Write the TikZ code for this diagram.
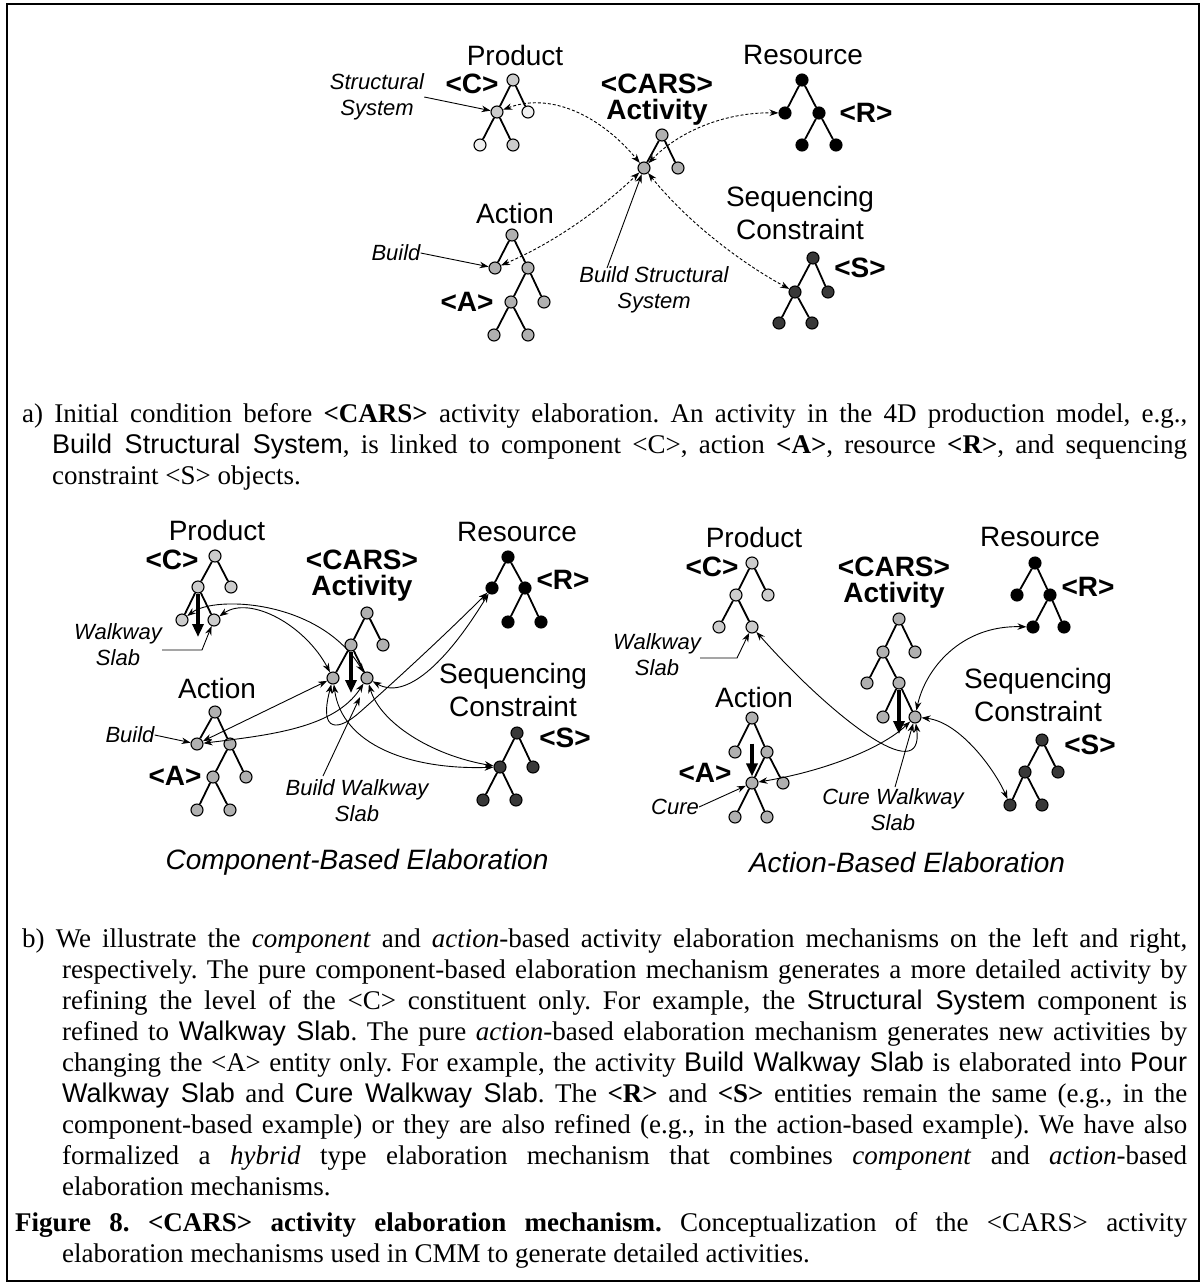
\documentclass[tikz,border=0pt]{standalone}
\usepackage{fontspec}
\setmainfont{Liberation Serif}
\setsansfont{Liberation Sans}
\usetikzlibrary{positioning,arrows.meta}
\frenchspacing

\tikzset{
  tnode/.style={circle, draw, line width=1.1pt, inner sep=0pt, minimum size=12pt},
  pnode/.style={tnode, fill=gray!40},
  anode/.style={tnode, fill=gray!62},
  rnode/.style={tnode, fill=black},
  snode/.style={tnode, fill=black!78},
  tedge/.style={line width=1.8pt},
  link/.style={line width=0.9pt, {Stealth[length=9pt,width=6.5pt]}-{Stealth[length=9pt,width=6.5pt]}},
  dlink/.style={link, dash pattern=on 3pt off 2pt},
  pointer/.style={line width=0.9pt, -{Stealth[length=9pt,width=6.5pt]}},
  bigarrow/.style={line width=3.2pt, -{Triangle[length=13pt,width=11pt]}},
  lbl/.style={font=\sffamily\fontsize{28}{33}\selectfont, inner sep=0pt, align=center},
  blbl/.style={font=\sffamily\bfseries\fontsize{28}{26}\selectfont, inner sep=0pt, align=center},
  ilbl/.style={font=\sffamily\itshape\fontsize{22}{26}\selectfont, inner sep=0pt, align=center},
  tlbl/.style={font=\sffamily\itshape\fontsize{28}{30}\selectfont, inner sep=0pt},
  captext/.style={font=\fontsize{27}{31}\selectfont, inner sep=0pt, anchor=north west, align=justify},
}

\begin{document}
\begin{tikzpicture}[x=1pt,y=-1pt]
  \useasboundingbox (0,0) rectangle (1201,1283);
  % Frame round the whole figure
  \draw[line width=1.6pt] (7,4) rectangle (1199,1281);

  % ===== a) initial condition =====
  % Product tree <C>
  \node[pnode] (tp0) at (513,80) {};
  \node[pnode] (tp1) at (497,112) {};
  \node[tnode, fill=gray!12] (tp2) at (528,112) {};
  \node[tnode, fill=gray!12] (tp3) at (480,145) {};
  \node[pnode] (tp4) at (513,145) {};
  \foreach \a/\b in {tp0/tp1, tp0/tp2, tp1/tp3, tp1/tp4} \draw[tedge] (\a) -- (\b);
  \node[lbl] (tpl) at (515,55) {Product};
  \node[blbl] (tpc) at (472,84) {<C>};
  \node[ilbl] (tss) at (377,97) {Structural\\System};
  \draw[pointer] (tss.east) -- (tp1);

  % Activity tree
  \node[anode] (ta0) at (662,135) {};
  \node[anode] (ta1) at (644,168) {};
  \node[anode] (ta2) at (678,168) {};
  \foreach \a/\b in {ta0/ta1, ta0/ta2} \draw[tedge] (\a) -- (\b);
  \node[blbl] (tal) at (657,100) {<CARS>\\Activity};

  % Resource tree <R>
  \node[rnode] (tr0) at (802,80) {};
  \node[rnode] (tr1) at (785,113) {};
  \node[rnode] (tr2) at (819,113) {};
  \node[rnode] (tr3) at (802,145) {};
  \node[rnode] (tr4) at (836,145) {};
  \foreach \a/\b in {tr0/tr1, tr0/tr2, tr2/tr3, tr2/tr4} \draw[tedge] (\a) -- (\b);
  \node[lbl] (trl) at (803,55) {Resource};
  \node[blbl] (trc) at (866,113) {<R>};

  % Action tree <A>
  \node[anode] (tc0) at (512,235) {};
  \node[anode] (tc1) at (495,268) {};
  \node[anode] (tc2) at (528,268) {};
  \node[anode] (tc3) at (511,302) {};
  \node[anode] (tc4) at (544,302) {};
  \node[anode] (tc5) at (494,335) {};
  \node[anode] (tc6) at (528,335) {};
  \foreach \a/\b in {tc0/tc1, tc0/tc2, tc2/tc3, tc2/tc4, tc3/tc5, tc3/tc6} \draw[tedge] (\a) -- (\b);
  \node[lbl] (tcl) at (515,213) {Action};
  \node[blbl] (tcc) at (467,302) {<A>};
  \node[ilbl] (tbd) at (396,253) {Build};
  \draw[pointer] (tbd.east) -- (tc1);

  % Sequencing constraint tree <S>
  \node[snode] (ts0) at (813,258) {};
  \node[snode] (ts1) at (795,292) {};
  \node[snode] (ts2) at (828,292) {};
  \node[snode] (ts3) at (779,323) {};
  \node[snode] (ts4) at (812,323) {};
  \foreach \a/\b in {ts0/ts1, ts0/ts2, ts1/ts3, ts1/ts4} \draw[tedge] (\a) -- (\b);
  \node[lbl] (tsl) at (800,213) {Sequencing\\Constraint};
  \node[blbl] (tsc) at (860,268) {<S>};

  % Links of the activity
  \draw[dlink] (tp1) .. controls (550,92) and (600,115) .. (ta1);
  \draw[dlink] (ta1) .. controls (675,135) and (720,112) .. (tr1);
  \draw[dlink] (tc1) .. controls (560,240) and (605,205) .. (ta1);
  \draw[dlink] (ta1) .. controls (690,225) and (745,265) .. (ts1);
  \node[ilbl] (tbs) at (654,290) {Build Structural\\System};
  \coordinate (tbsp) at (607,268);
  \draw[pointer] (tbsp) -- (ta1);

  % Caption a)
  \node[captext, text width=1165pt] (capa) at (22,403) {\hangindent=30pt\hangafter=1
    a) Initial condition before \textbf{<CARS>} activity elaboration. An activity in the 4D production model, e.g.,\linebreak
    {\sffamily Build Structural System}, is linked to component <C>, action \textbf{<A>}, resource \textbf{<R>}, and sequencing\linebreak
    constraint <S> objects.\par};

  % ===== b) left: component-based elaboration =====
  % Product tree <C>
  \node[pnode] (lp0) at (215,556) {};
  \node[pnode] (lp1) at (198,587) {};
  \node[pnode] (lp2) at (231,587) {};
  \node[pnode] (lp3) at (182,620) {};
  \node[pnode] (lp4) at (214,620) {};
  \foreach \a/\b in {lp0/lp1, lp0/lp2, lp1/lp3, lp1/lp4} \draw[tedge] (\a) -- (\b);
  \coordinate (lpt) at (198,637);
  \draw[bigarrow] (lp1) -- (lpt);
  \node[lbl] (lpl) at (217,530) {Product};
  \node[blbl] (lpc) at (172,560) {<C>};
  \node[ilbl] (lws) at (118,645) {Walkway\\Slab};
  \coordinate (lwsp) at (162,650);
  \draw[pointer] (lwsp) -- (202,650) -- (lp4);

  % Activity tree
  \node[anode] (la0) at (367,613) {};
  \node[anode] (la1) at (351,645) {};
  \node[anode] (la2) at (383,645) {};
  \node[anode] (la3) at (333,678) {};
  \node[anode] (la4) at (367,678) {};
  \foreach \a/\b in {la0/la1, la0/la2, la1/la3, la1/la4} \draw[tedge] (\a) -- (\b);
  \coordinate (lat) at (351,693);
  \draw[bigarrow] (la1) -- (lat);
  \node[blbl] (lal) at (362,576) {<CARS>\\Activity};

  % Resource tree <R>
  \node[rnode] (lr0) at (508,557) {};
  \node[rnode] (lr1) at (492,588) {};
  \node[rnode] (lr2) at (525,588) {};
  \node[rnode] (lr3) at (508,622) {};
  \node[rnode] (lr4) at (541,622) {};
  \foreach \a/\b in {lr0/lr1, lr0/lr2, lr2/lr3, lr2/lr4} \draw[tedge] (\a) -- (\b);
  \node[lbl] (lrl) at (517,532) {Resource};
  \node[blbl] (lrc) at (563,580) {<R>};

  % Action tree <A>
  \node[anode] (lc0) at (215,712) {};
  \node[anode] (lc1) at (197,744) {};
  \node[anode] (lc2) at (230,744) {};
  \node[anode] (lc3) at (213,777) {};
  \node[anode] (lc4) at (246,777) {};
  \node[anode] (lc5) at (197,810) {};
  \node[anode] (lc6) at (230,810) {};
  \foreach \a/\b in {lc0/lc1, lc0/lc2, lc2/lc3, lc2/lc4, lc3/lc5, lc3/lc6} \draw[tedge] (\a) -- (\b);
  \node[lbl] (lcl) at (217,688) {Action};
  \node[blbl] (lcc) at (175,776) {<A>};
  \node[ilbl] (lbd) at (130,735) {Build};
  \draw[pointer] (lbd.east) -- (lc1);

  % Sequencing constraint tree <S>
  \node[snode] (ls0) at (517,733) {};
  \node[snode] (ls1) at (500,767) {};
  \node[snode] (ls2) at (533,767) {};
  \node[snode] (ls3) at (483,800) {};
  \node[snode] (ls4) at (516,800) {};
  \foreach \a/\b in {ls0/ls1, ls0/ls2, ls1/ls3, ls1/ls4} \draw[tedge] (\a) -- (\b);
  \node[lbl] (lsl) at (513,690) {Sequencing\\Constraint};
  \node[blbl] (lsc) at (565,738) {<S>};

  % Links of the two refined activities
  \draw[link] (lp4) .. controls (250,595) and (305,625) .. (la3);
  \draw[link] (lp3) .. controls (215,595) and (320,600) .. (la4);
  \draw[link] (lc1) -- (la3);
  \draw[link] (lc1) .. controls (270,735) and (335,728) .. (la4);
  \draw[link] (la3) .. controls (318,735) and (340,730) .. (360,712) .. controls (385,690) and (440,640) .. (lr1);
  \draw[link] (la4) .. controls (405,700) and (445,665) .. (lr1);
  \draw[link] (la3) .. controls (342,745) and (410,770) .. (ls1);
  \draw[link] (la4) .. controls (380,722) and (430,755) .. (ls1);
  \node[ilbl] (lbws) at (357,801) {Build Walkway\\Slab};
  \coordinate (lbwsp) at (323,776);
  \draw[pointer] (lbwsp) -- (360,697);
  \node[tlbl] (lttl) at (357,862) {Component-Based Elaboration};

  % ===== b) right: action-based elaboration =====
  % Product tree <C>
  \node[pnode] (rp0) at (752,563) {};
  \node[pnode] (rp1) at (736,595) {};
  \node[pnode] (rp2) at (768,595) {};
  \node[pnode] (rp3) at (719,627) {};
  \node[pnode] (rp4) at (752,627) {};
  \foreach \a/\b in {rp0/rp1, rp0/rp2, rp1/rp3, rp1/rp4} \draw[tedge] (\a) -- (\b);
  \node[lbl] (rpl) at (754,537) {Product};
  \node[blbl] (rpc) at (712,567) {<C>};
  \node[ilbl] (rws) at (657,655) {Walkway\\Slab};
  \coordinate (rwsp) at (700,658);
  \draw[pointer] (rwsp) -- (737,658) -- (rp4);

  % Activity tree
  \node[anode] (ra0) at (899,619) {};
  \node[anode] (ra1) at (883,652) {};
  \node[anode] (ra2) at (915,652) {};
  \node[anode] (ra3) at (867,683) {};
  \node[anode] (ra4) at (899,683) {};
  \node[anode] (ra5) at (883,717) {};
  \node[anode] (ra6) at (915,717) {};
  \foreach \a/\b in {ra0/ra1, ra0/ra2, ra1/ra3, ra1/ra4, ra4/ra5, ra4/ra6} \draw[tedge] (\a) -- (\b);
  \coordinate (rat) at (899,734);
  \draw[bigarrow] (ra4) -- (rat);
  \node[blbl] (ral) at (894,583) {<CARS>\\Activity};

  % Resource tree <R>
  \node[rnode] (rr0) at (1035,563) {};
  \node[rnode] (rr1) at (1017,595) {};
  \node[rnode] (rr2) at (1050,595) {};
  \node[rnode] (rr3) at (1033,627) {};
  \node[rnode] (rr4) at (1064,627) {};
  \foreach \a/\b in {rr0/rr1, rr0/rr2, rr2/rr3, rr2/rr4} \draw[tedge] (\a) -- (\b);
  \node[lbl] (rrl) at (1040,537) {Resource};
  \node[blbl] (rrc) at (1088,587) {<R>};

  % Action tree <A>
  \node[anode] (rc0) at (752,718) {};
  \node[anode] (rc1) at (735,752) {};
  \node[anode] (rc2) at (767,752) {};
  \node[anode] (rc3) at (752,783) {};
  \node[anode] (rc4) at (783,783) {};
  \node[anode] (rc5) at (735,817) {};
  \node[anode] (rc6) at (767,817) {};
  \foreach \a/\b in {rc0/rc1, rc0/rc2, rc2/rc3, rc2/rc4, rc3/rc5, rc3/rc6} \draw[tedge] (\a) -- (\b);
  \draw[bigarrow, shorten <=19pt] (rc0) -- (rc3);
  \node[lbl] (rcl) at (754,697) {Action};
  \node[blbl] (rcc) at (705,773) {<A>};
  \node[ilbl] (rcu) at (675,807) {Cure};
  \draw[pointer] (rcu.east) -- (rc3);

  % Sequencing constraint tree <S>
  \node[snode] (rs0) at (1042,740) {};
  \node[snode] (rs1) at (1025,772) {};
  \node[snode] (rs2) at (1058,772) {};
  \node[snode] (rs3) at (1010,805) {};
  \node[snode] (rs4) at (1042,805) {};
  \foreach \a/\b in {rs0/rs1, rs0/rs2, rs1/rs3, rs1/rs4} \draw[tedge] (\a) -- (\b);
  \node[lbl] (rsl) at (1038,695) {Sequencing\\Constraint};
  \node[blbl] (rsc) at (1090,745) {<S>};

  % Links of the new activity
  \draw[link] (rp4) .. controls (830,715) and (925,790) .. (ra6);
  \draw[link] (rr3) .. controls (960,625) and (925,670) .. (ra6);
  \draw[link] (ra6) .. controls (960,722) and (995,770) .. (rs3);
  \draw[link] (rc3) .. controls (820,772) and (880,750) .. (ra6);
  \node[ilbl] (rcws) at (893,810) {Cure Walkway\\Slab};
  \coordinate (rcwsp) at (895,787);
  \draw[pointer] (rcwsp) -- (ra6);
  \node[tlbl] (rttl) at (907,862) {Action-Based Elaboration};

  % Caption b)
  \node[captext, text width=1165pt] (capb) at (22,928) {\hangindent=40pt\hangafter=1
    b) We illustrate the \emph{component} and \emph{action}-based activity elaboration mechanisms on the left and right,\linebreak
    respectively. The pure component-based elaboration mechanism generates a more detailed activity by\linebreak
    refining the level of the <C> constituent only. For example, the {\sffamily Structural System} component is\linebreak
    refined to {\sffamily Walkway Slab}. The pure \emph{action}-based elaboration mechanism generates new activities by\linebreak
    changing the <A> entity only. For example, the activity {\sffamily Build Walkway Slab} is elaborated into {\sffamily Pour}\linebreak
    {\sffamily Walkway Slab} and {\sffamily Cure Walkway Slab}. The \textbf{<R>} and \textbf{<S>} entities remain the same (e.g., in the\linebreak
    component-based example) or they are also refined (e.g., in the action-based example). We have also\linebreak
    formalized a \emph{hybrid} type elaboration mechanism that combines \emph{component} and \emph{action}-based\linebreak
    elaboration mechanisms.\par};

  % Figure caption
  \node[captext, text width=1172pt] (capf) at (15,1212) {\hangindent=47pt\hangafter=1
    \textbf{Figure 8. <CARS> activity elaboration mechanism.} Conceptualization of the <CARS> activity\linebreak
    elaboration mechanisms used in CMM to generate detailed activities.\par};
\end{tikzpicture}
\end{document}
